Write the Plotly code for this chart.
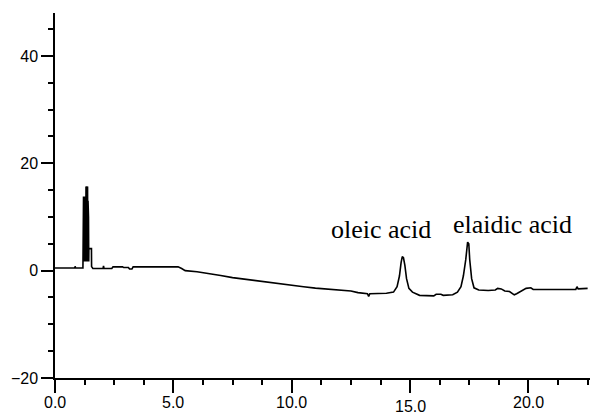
import plotly.graph_objects as go

# Retention time (min) and detector signal
time_min = [
    0.00, 0.83, 0.85, 0.87, 1.180,
    1.185, 1.195, 1.205, 1.215, 1.225, 1.235, 1.245, 1.255, 1.265, 1.275,
    1.285, 1.295, 1.310, 1.320, 1.330, 1.340, 1.350, 1.360, 1.375, 1.385,
    1.395, 1.405, 1.415, 1.425, 1.430, 1.540, 1.545, 1.60,
    2.03, 2.05, 2.07, 2.40, 2.45, 2.85, 2.90, 3.10, 3.15, 3.25, 3.30, 3.60,
    5.20, 5.35, 5.50, 6.00, 6.50, 7.00, 7.50, 8.00, 8.50, 9.00, 9.50, 10.00,
    10.50, 11.00, 11.50, 12.00, 12.50, 12.80, 13.20, 13.25, 13.30, 14.00,
    14.30, 14.45, 14.55, 14.62, 14.67, 14.72, 14.78, 14.85, 14.95, 15.10,
    15.40, 16.00, 16.10, 16.30, 16.40, 16.80, 17.00, 17.15, 17.25, 17.35,
    17.43, 17.48, 17.52, 17.60, 17.70, 17.90, 18.30, 18.60, 18.70, 18.85,
    19.00, 19.20, 19.40, 19.50, 19.70, 19.90, 20.10, 20.20, 22.00, 22.05,
    22.10, 22.30, 22.50,
]
signal = [
    0.5, 0.5, 0.8, 0.5, 0.5,
    13.8, 1.7, 13.8, 1.7, 13.8, 1.7, 13.8, 1.7, 13.8, 1.7,
    13.8, 1.7, 15.7, 1.7, 11.0, 1.7, 11.0, 1.7, 15.7, 1.7,
    13.0, 1.7, 10.0, 1.7, 4.1, 4.1, 0.75, 0.4,
    0.4, 0.9, 0.4, 0.4, 0.7, 0.7, 0.6, 0.6, 0.3, 0.3, 0.7, 0.7,
    0.7, 0.4, 0.0, -0.2, -0.5, -0.9, -1.3, -1.6, -1.9, -2.2, -2.45, -2.7,
    -3.0, -3.25, -3.4, -3.6, -3.8, -4.1, -4.3, -4.8, -4.3, -4.2,
    -4.0, -3.0, -1.0, 1.5, 2.6, 2.4, 1.0, -1.5, -3.3, -4.0,
    -4.6, -4.7, -4.4, -4.4, -4.6, -4.5, -4.0, -3.0, -1.0, 2.0,
    5.3, 5.0, 2.0, -1.5, -3.2, -3.6, -3.7, -3.6, -3.3, -3.4,
    -3.8, -3.9, -4.5, -4.3, -3.8, -3.3, -3.2, -3.5, -3.5, -3.0,
    -3.4, -3.3, -3.3,
]

x_tick_vals = [0, 5, 10, 15, 20]
x_tick_text = ["0.0", "5.0", "10.0", "15.0", "20.0"]
y_tick_vals = [-20, 0, 20, 40]

peak_names = ["oleic acid", "elaidic acid"]
peak_label_x = [13.77, 19.33]
peak_label_y = [7.6, 8.6]

fig = go.Figure()
fig.add_trace(go.Scatter(
    x=time_min, y=signal, mode="lines",
    line=dict(color="black", width=1.6),
    hoverinfo="skip", showlegend=False,
))

tick_font = dict(family="Liberation Sans, Arial, sans-serif", size=16, color="black")

# the page body adds an 8px offset, so the figure is sized 590x408
fig.update_layout(
    template="none",
    width=590, height=408,
    margin=dict(l=47, r=8, t=5, b=38, autoexpand=False),
    paper_bgcolor="white", plot_bgcolor="white",
    showlegend=False,
    xaxis=dict(
        range=[0, 22.6], showgrid=False, zeroline=False, automargin=False,
        showline=True, linecolor="black", linewidth=1.5,
        ticks="outside", ticklen=13, tickwidth=1.5, tickcolor="black",
        tickvals=x_tick_vals, showticklabels=False,
        minor=dict(dtick=1.25, tick0=0, ticks="outside", ticklen=5,
                   tickwidth=1.5, tickcolor="black", showgrid=False),
    ),
    yaxis=dict(
        range=[-20, 48], showgrid=False, zeroline=False, automargin=False,
        showline=True, linecolor="black", linewidth=1.5,
        ticks="outside", ticklen=12, tickwidth=1.5, tickcolor="black",
        tickvals=y_tick_vals, tickfont=tick_font,
        minor=dict(dtick=5, tick0=0, ticks="outside", ticklen=5,
                   tickwidth=1.5, tickcolor="black", showgrid=False),
    ),
)

for v, t in zip(x_tick_vals, x_tick_text):
    fig.add_annotation(
        x=v, xref="x", y=0, yref="paper", text=t, showarrow=False,
        xanchor="center", yanchor="top",
        yshift=-14 if t != "15.0" else -18,
        font=tick_font,
    )

for name, lx, ly in zip(peak_names, peak_label_x, peak_label_y):
    fig.add_annotation(
        x=lx, y=ly, xref="x", yref="y", text=name, showarrow=False,
        xanchor="center", yanchor="middle",
        font=dict(family="Liberation Serif, Times New Roman, serif", size=26, color="black"),
    )

fig.write_html("out.html")
